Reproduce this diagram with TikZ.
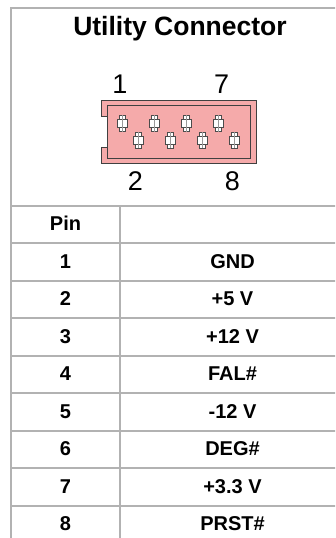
\documentclass[tikz,border=0pt]{standalone}
\usepackage{fontspec}
\setmainfont{Liberation Sans}
\definecolor{bodypink}{RGB}{245,170,170}
\tikzset{H/.style={font=\fontsize{26.5}{30}\selectfont\bfseries, inner sep=0pt, anchor=base}}
\tikzset{N/.style={font=\fontsize{27}{30}\selectfont, inner sep=0pt, anchor=base}}
\tikzset{T/.style={font=\fontsize{20}{24}\selectfont\bfseries, inner sep=0pt, anchor=base}}
\tikzset{G/.style={draw=black!30, line width=2pt}}
\tikzset{P/.style={rectangle, draw=black!70, fill=white, line width=0.6pt, inner sep=0pt, minimum width=6pt, minimum height=16pt}}

\begin{document}
\begin{tikzpicture}[x=1pt,y=-1pt]
    \clip (0,0) rectangle (335,538);
    \fill[white] (0,0) rectangle (335,538);
    % frame and rules
    \draw[G] (346,8) -- (11,8) -- (11,538);
    \foreach \k in {0,...,8}
        \draw[G] (11,205.5+37.5*\k) -- (346,205.5+37.5*\k);
    \draw[G] (120,205.5) -- (120,538);
    \node[H] (title) at (180,35) {Utility Connector};
    % connector body
    \draw[draw=black!75, fill=bodypink, line width=1pt]
        (101.5,100) -- (256.5,100) -- (256.5,163) -- (101.5,163) -- (101.5,147)
        -- (107.5,147) -- (107.5,116) -- (101.5,116) -- cycle;
    \draw[black!75, line width=1pt] (107.5,105.5) rectangle (250,158);
    \foreach \i/\x/\y in {1/122.2/123.3, 3/154.5/123.3, 5/186.5/123.3, 7/218.5/123.3,
                          2/138/140, 4/170.3/140, 6/202.7/140, 8/234.5/140} {
        \node[P] (c\i) at (\x,\y) {};
        \draw[black!70, fill=white, line width=0.6pt]
            ([xshift=-5pt,yshift=-4pt]c\i.center) rectangle ([xshift=5pt,yshift=4pt]c\i.center);
        \draw[black!40, line width=1pt] (c\i.north) -- (c\i.south);
    }
    \node[N] (n1) at (120,93) {1};
    \node[N] (n7) at (221.7,93) {7};
    \node[N] (n2) at (135.5,190) {2};
    \node[N] (n8) at (232.5,190) {8};
    % table
    \node[T] (pinhead) at (65.5,230.5) {Pin};
    \foreach \i/\sg in {1/GND, 2/+5 V, 3/+12 V, 4/FAL\#, 5/-12 V, 6/DEG\#, 7/+3.3 V, 8/PRST\#} {
        \node[T] (pin\i) at (65.5,230.5+37.5*\i) {\i};
        \node[T] (sig\i) at (232.5,230.5+37.5*\i) {\sg};
    }
\end{tikzpicture}
\end{document}
